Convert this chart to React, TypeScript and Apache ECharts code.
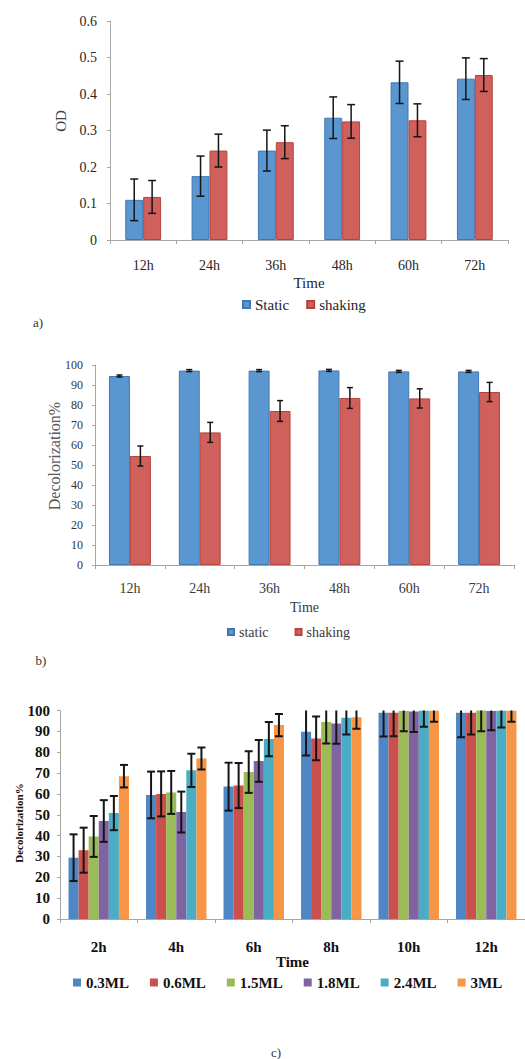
import React, { useEffect, useRef } from "react";
import * as echarts from "echarts";

// ---------- data ----------
const hoursAB = ["12h", "24h", "36h", "48h", "60h", "72h"];
const odStatic = [0.11, 0.175, 0.245, 0.335, 0.432, 0.442];
const odStaticErr = [0.057, 0.055, 0.056, 0.057, 0.058, 0.057];
const odShaking = [0.118, 0.245, 0.268, 0.325, 0.328, 0.452];
const odShakingErr = [0.045, 0.045, 0.045, 0.046, 0.045, 0.045];

const decStatic = [94.5, 97.2, 97.2, 97.3, 96.8, 96.8];
const decStaticErr = [0.5, 0.5, 0.5, 0.5, 0.5, 0.5];
const decShaking = [54.5, 66.3, 77, 83.5, 83.3, 86.5];
const decShakingErr = [5, 5, 5.2, 5.2, 4.8, 4.8];

const hoursC = ["2h", "4h", "6h", "8h", "10h", "12h"];
const volumes = ["0.3ML", "0.6ML", "1.5ML", "1.8ML", "2.4ML", "3ML"];
const dec03 = [29.4, 59.5, 63.5, 89.8, 98.9, 98.9];
const dec03Err = [11.2, 11.2, 11.5, 11.4, 11.4, 11.7];
const dec06 = [33, 60, 64, 86.6, 98.9, 98.9];
const dec06Err = [10.8, 10.8, 10.8, 10.5, 11.3, 10.4];
const dec15 = [39.6, 60.7, 70.5, 94.5, 99.8, 100];
const dec15Err = [9.8, 10.3, 10, 10.3, 9.7, 10];
const dec18 = [47, 51.3, 75.8, 93.8, 99.5, 99.8];
const dec18Err = [10, 9.8, 10, 9.8, 9.8, 9.3];
const dec24 = [50.8, 71.3, 86.3, 96.5, 99.9, 99.9];
const dec24Err = [8.2, 8, 8.2, 8, 7.7, 8];
const dec3 = [68.5, 77, 93, 96.8, 99.9, 99.9];
const dec3Err = [5.4, 5.3, 5.3, 5.6, 5.3, 5.3];

const volumeValues = [dec03, dec06, dec15, dec18, dec24, dec3];
const volumeErrors = [dec03Err, dec06Err, dec15Err, dec18Err, dec24Err, dec3Err];

// ---------- styling ----------
const SERIF = "Liberation Serif, serif";
const AXIS_GREY = "#A6A6A6";
const BLUE = "#5A96D0";
const BLUE_EDGE = "#4078B4";
const RED = "#D0605B";
const RED_EDGE = "#B4443F";
const VOLUME_COLORS = ["#4F87C6", "#C9504C", "#9BBB59", "#8064A2", "#4BACC6", "#F79646"];

// Error bar drawn centred on bar `idx` of `count` side-by-side bars
function errorBars(
  values: number[],
  errs: number[],
  idx: number,
  count: number,
  categoryGap: number,
  axis: number,
  capHalf: number,
  lineWidth: number
) {
  return {
    type: "custom",
    xAxisIndex: axis,
    yAxisIndex: axis,
    clip: true,
    z: 10,
    silent: true,
    data: values.map((v, i) => [i, v - errs[i], v + errs[i]]),
    encode: { x: 0, y: [1, 2] },
    renderItem: (_params: any, api: any) => {
      const cat = api.value(0);
      const lo = api.coord([cat, api.value(1)]);
      const hi = api.coord([cat, api.value(2)]);
      const band = api.size([1, 0])[0];
      const group = band * (1 - categoryGap);
      const bw = group / count;
      const x = lo[0] - group / 2 + bw * (idx + 0.5);
      const style = { stroke: "#151515", lineWidth };
      return {
        type: "group",
        children: [
          { type: "line", shape: { x1: x, y1: hi[1], x2: x, y2: lo[1] }, style },
          { type: "line", shape: { x1: x - capHalf, y1: hi[1], x2: x + capHalf, y2: hi[1] }, style },
          { type: "line", shape: { x1: x - capHalf, y1: lo[1], x2: x + capHalf, y2: lo[1] }, style },
        ],
      };
    },
  };
}

function categoryAxis(
  grid: number,
  data: string[],
  labelSize: number,
  labelMargin: number,
  nameGap: number,
  nameSize: number,
  color: string,
  bold: boolean
) {
  const weight = bold ? "bold" : "normal";
  return {
    type: "category",
    gridIndex: grid,
    data,
    axisLine: { show: true, lineStyle: { color: AXIS_GREY, width: 1 } },
    axisTick: { show: true, interval: 0, length: 4, lineStyle: { color: AXIS_GREY } },
    axisLabel: {
      interval: 0,
      margin: labelMargin,
      fontSize: labelSize,
      fontFamily: SERIF,
      fontWeight: weight,
      color,
    },
    name: "Time",
    nameLocation: "middle",
    nameGap,
    nameTextStyle: { fontSize: nameSize, fontFamily: SERIF, fontWeight: weight, color },
  };
}

function valueAxis(
  grid: number,
  max: number,
  interval: number,
  labelSize: number,
  labelMargin: number,
  color: string,
  bold: boolean
) {
  return {
    type: "value",
    gridIndex: grid,
    min: 0,
    max,
    interval,
    splitLine: { show: false },
    axisLine: { show: true, lineStyle: { color: AXIS_GREY, width: 1 } },
    axisTick: { show: true, length: 3, lineStyle: { color: AXIS_GREY } },
    axisLabel: {
      margin: labelMargin,
      fontSize: labelSize,
      fontFamily: SERIF,
      fontWeight: bold ? "bold" : "normal",
      color,
    },
  };
}

const GAP_A = 0.46;
const GAP_B = 0.4;
const GAP_C = 0.22;

function buildOption() {
  const series: any[] = [];

  // a) optical density
  series.push(
    {
      type: "bar", name: "Static", xAxisIndex: 0, yAxisIndex: 0, data: odStatic,
      barGap: "0%", barCategoryGap: GAP_A * 100 + "%",
      itemStyle: { color: BLUE, borderColor: BLUE_EDGE, borderWidth: 1 },
    },
    {
      type: "bar", name: "shaking", xAxisIndex: 0, yAxisIndex: 0, data: odShaking,
      barGap: "0%", barCategoryGap: GAP_A * 100 + "%",
      itemStyle: { color: RED, borderColor: RED_EDGE, borderWidth: 1 },
    },
    errorBars(odStatic, odStaticErr, 0, 2, GAP_A, 0, 4, 1.5),
    errorBars(odShaking, odShakingErr, 1, 2, GAP_A, 0, 4, 1.5)
  );

  // b) decolorization, static vs shaking
  series.push(
    {
      type: "bar", name: "static", xAxisIndex: 1, yAxisIndex: 1, data: decStatic,
      barGap: "0%", barCategoryGap: GAP_B * 100 + "%",
      itemStyle: { color: BLUE, borderColor: BLUE_EDGE, borderWidth: 1 },
    },
    {
      type: "bar", name: "shaking ", xAxisIndex: 1, yAxisIndex: 1, data: decShaking,
      barGap: "0%", barCategoryGap: GAP_B * 100 + "%",
      itemStyle: { color: RED, borderColor: RED_EDGE, borderWidth: 1 },
    },
    errorBars(decStatic, decStaticErr, 0, 2, GAP_B, 1, 3, 1.5),
    errorBars(decShaking, decShakingErr, 1, 2, GAP_B, 1, 3, 1.5)
  );

  // c) decolorization by inoculum volume
  volumes.forEach((vol, i) => {
    series.push({
      type: "bar", name: vol, xAxisIndex: 2, yAxisIndex: 2, data: volumeValues[i],
      barGap: "0%", barCategoryGap: GAP_C * 100 + "%",
      itemStyle: { color: VOLUME_COLORS[i] },
    });
  });
  volumes.forEach((_vol, i) => {
    series.push(errorBars(volumeValues[i], volumeErrors[i], i, volumes.length, GAP_C, 2, 4, 2));
  });

  return {
    animation: false,
    backgroundColor: "#ffffff",
    textStyle: { fontFamily: SERIF },
    grid: [
      { left: 110, top: 21, width: 398, height: 219 },
      { left: 95, top: 365, width: 419, height: 200 },
      { left: 60, top: 710.5, width: 476, height: 208.5 },
    ],
    xAxis: [
      categoryAxis(0, hoursAB, 14, 18, 35, 15, "#262626", false),
      categoryAxis(1, hoursAB, 14, 16, 35, 14, "#3a3a3a", false),
      categoryAxis(2, hoursC, 15, 20, 35, 15, "#111111", true),
    ],
    yAxis: [
      valueAxis(0, 0.6, 0.1, 14, 13, "#262626", false),
      valueAxis(1, 100, 10, 12, 12, "#333333", false),
      valueAxis(2, 100, 10, 15, 10, "#111111", true),
    ],
    legend: [
      {
        data: ["Static", "shaking"],
        left: 242, top: 297, padding: 0, icon: "rect", itemWidth: 7, itemHeight: 7, itemGap: 17,
        textStyle: { fontSize: 15, fontFamily: SERIF, color: "#262626" },
      },
      {
        data: ["static", "shaking "],
        left: 227, top: 625, padding: 0, icon: "rect", itemWidth: 6, itemHeight: 6, itemGap: 26,
        textStyle: { fontSize: 14, fontFamily: SERIF, color: "#3a3a3a" },
      },
      {
        data: volumes,
        left: 73, top: 975, padding: 0, icon: "rect", itemWidth: 8, itemHeight: 8, itemGap: 21,
        textStyle: { fontSize: 15, fontFamily: SERIF, fontWeight: "bold", color: "#111111" },
      },
    ],
    graphic: [
      {
        type: "text", x: 61, y: 121, rotation: Math.PI / 2,
        style: { text: "OD", fontSize: 15, fontFamily: SERIF, fill: "#404040", align: "center", verticalAlign: "middle" },
      },
      {
        type: "text", x: 54, y: 456, rotation: Math.PI / 2,
        style: { text: "Decolorization%", fontSize: 16, fontFamily: SERIF, fill: "#595959", align: "center", verticalAlign: "middle" },
      },
      {
        type: "text", x: 19, y: 823, rotation: Math.PI / 2,
        style: { text: "Decolorization%", fontSize: 11, fontWeight: "bold", fontFamily: SERIF, fill: "#111111", align: "center", verticalAlign: "middle" },
      },
      {
        type: "text", x: 38, y: 322,
        style: { text: "a)", fontSize: 13, fontFamily: SERIF, fill: "#333333", align: "center", verticalAlign: "middle" },
      },
      {
        type: "text", x: 41, y: 660,
        style: { text: "b)", fontSize: 13, fontFamily: SERIF, fill: "#333333", align: "center", verticalAlign: "middle" },
      },
      {
        type: "text", x: 276, y: 1052,
        style: { text: "c)", fontSize: 13, fontFamily: SERIF, fill: "#333333", align: "center", verticalAlign: "middle" },
      },
    ],
    series,
  };
}

export default function App() {
  const ref = useRef<HTMLDivElement>(null);
  useEffect(() => {
    if (!ref.current) return;
    const chart = echarts.init(ref.current, null, { renderer: "svg" });
    chart.setOption(buildOption() as any);
    return () => chart.dispose();
  }, []);
  return (
    <div style={{ position: "fixed", left: 0, top: 0, width: 525, height: 1059, overflow: "hidden", background: "#fff" }}>
      <div ref={ref} style={{ width: 525, height: 1059 }} />
    </div>
  );
}
